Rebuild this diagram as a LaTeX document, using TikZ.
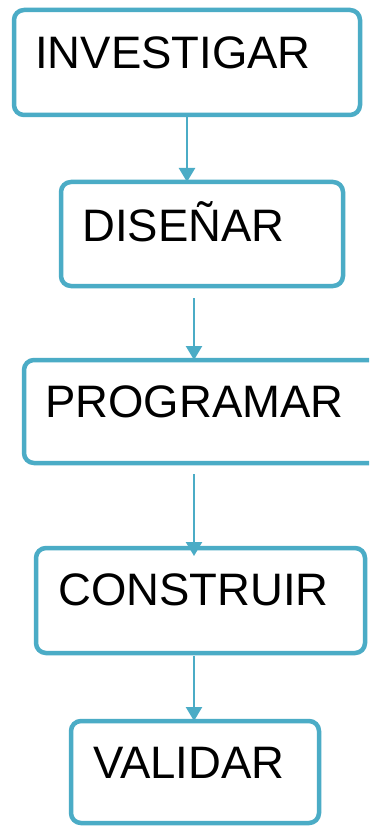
\documentclass[tikz,border=0pt]{standalone}
\usepackage{fontspec}
\setmainfont{Liberation Sans}
\usetikzlibrary{arrows.meta}
\definecolor{accent}{HTML}{4BACC6}
\tikzset{
  stagebox/.style={draw=accent, line width=4.5pt, rounded corners=10pt,
    outer sep=0pt, inner sep=0pt},
  stagetext/.style={anchor=base west, inner sep=0pt, font=\fontsize{45.5}{45.5}\selectfont},
  flow/.style={draw=accent, line width=2.4pt, -{Triangle[width=16pt,length=14pt]}}
}
\begin{document}
\begin{tikzpicture}[x=1pt,y=-1pt]
  \useasboundingbox (0,0) rectangle (369,826);
  \clip (0,0) rectangle (369,826);
  \fill[white] (0,0) rectangle (369,826);

  % stage boxes
  \node[stagebox, minimum width=346pt, minimum height=105pt] (inv) at (187,62.5) {};
  \node[stagebox, minimum width=282pt, minimum height=104pt] (dis) at (202,234) {};
  \node[stagebox, minimum width=376pt, minimum height=103pt] (pro) at (212,411.5) {};
  \node[stagebox, minimum width=329pt, minimum height=105pt] (con) at (200.5,600.5) {};
  \node[stagebox, minimum width=248pt, minimum height=102pt] (val) at (195,772) {};

  % labels
  \node[stagetext] (tinv) at (35,68.5) {INVESTIGAR};
  \node[stagetext] (tdis) at (82,241.5) {DISEÑAR};
  \node[stagetext] (tpro) at (45,417.5) {PROGRAMAR};
  \node[stagetext] (tcon) at (58,605.5) {CONSTRUIR};
  \node[stagetext] (tval) at (93,778.5) {VALIDAR};

  % connector end points
  \coordinate (a2s) at (194,298);
  \coordinate (a3s) at (194,474);
  \coordinate (a4s) at (194,656);

  % flow arrows
  \draw[flow] (inv.south) -- (inv.south |- dis.north);
  \draw[flow] (a2s) -- (a2s |- pro.north);
  \draw[flow] (a3s) -- ([yshift=-8pt]a3s |- con.north);
  \draw[flow] (a4s) -- (a4s |- val.north);
\end{tikzpicture}
\end{document}
